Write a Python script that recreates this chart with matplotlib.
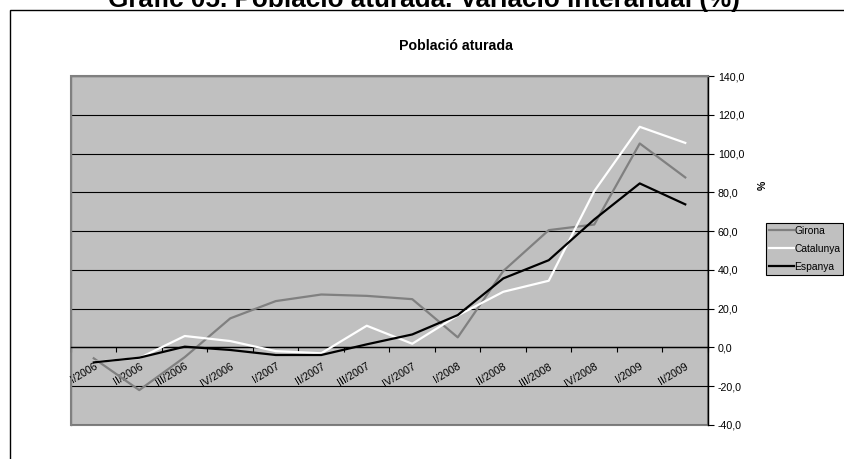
import numpy as np
import matplotlib
matplotlib.use("Agg")
import matplotlib.pyplot as plt
from matplotlib.patches import Rectangle
from matplotlib.ticker import FuncFormatter

plt.rcParams['font.family'] = ['Liberation Sans', 'DejaVu Sans']

categories = ["I/2006", "II/2006", "III/2006", "IV/2006", "I/2007", "II/2007", "III/2007",
              "IV/2007", "I/2008", "II/2008", "III/2008", "IV/2008", "I/2009", "II/2009"]
girona = [-5.6, -22.0, -5.0, 15.0, 23.9, 27.3, 26.6, 24.9, 5.2, 39.4, 60.5, 63.4, 105.2, 87.7]
catalunya = [-7.5, -5.5, 5.9, 3.3, -1.9, -3.0, 11.2, 1.9, 16.5, 28.7, 34.4, 80.6, 113.8, 105.5]
espanya = [-7.7, -5.3, 0.4, -1.3, -3.9, -3.9, 1.6, 6.7, 16.7, 35.6, 45.0, 66.0, 84.6, 73.8]
yticks = [-40, -20, 0, 20, 40, 60, 80, 100, 120, 140]

W, H = 845, 459
fig = plt.figure(figsize=(W / 100, H / 100), dpi=100)
fig.patch.set_facecolor('white')

# outer chart border (cut at right/bottom like the reference)
fig.patches.append(Rectangle((10 / W, -0.2), 1.2, (H - 10.5) / H + 0.2,
                             transform=fig.transFigure, fill=False,
                             edgecolor='black', linewidth=1.0))

fig.text(424 / W, 1 - 7.5 / H, "Gràfic 05. Població aturada. Variació interanual (%)",
         ha='center', va='baseline', fontsize=18.8, fontweight='bold')

ax = fig.add_axes([71 / W, 1 - 425 / H, (708 - 71) / W, (425 - 76) / H])
ax.set_facecolor('#C0C0C0')

x = np.arange(len(categories))
ax.plot(x, girona, color='#808080', lw=1.6, label='Girona', zorder=3)
ax.plot(x, catalunya, color='white', lw=1.6, label='Catalunya', zorder=4)
ax.plot(x, espanya, color='black', lw=1.6, label='Espanya', zorder=5)

ax.set_xlim(-0.5, len(categories) - 0.5)
ax.set_ylim(-40, 140)

# value axis on the right
ax.yaxis.tick_right()
ax.set_yticks(yticks)
ax.yaxis.set_major_formatter(FuncFormatter(lambda v, p: f"{v:.1f}".replace('.', ',')))
ax.tick_params(axis='y', direction='out', length=4, width=0.8, pad=3, labelsize=7.7, colors='black')
ax.yaxis.grid(True, color='black', linewidth=0.8)
ax.set_axisbelow(True)

# category axis crosses at 0
for s in ['left', 'top']:
    ax.spines[s].set_color('#808080')
    ax.spines[s].set_linewidth(1.0)
ax.spines['right'].set_color('black')
ax.spines['right'].set_linewidth(1.0)
ax.spines['bottom'].set_position(('data', 0))
ax.spines['bottom'].set_color('black')
ax.spines['bottom'].set_linewidth(1.0)
ax.add_patch(Rectangle((0, 0), 1, 1, transform=ax.transAxes, fill=False,
                       edgecolor='#808080', linewidth=1.5, zorder=0.5, clip_on=False))

ax.set_xticks(np.arange(-0.5, len(categories), 1.0))
ax.set_xticklabels([])
ax.tick_params(axis='x', which='major', direction='out', length=3.5, width=0.8)
ax.set_xticks(x, labels=categories, minor=True)
ax.tick_params(axis='x', which='minor', length=0, pad=10, labelsize=7.7)
for lbl in ax.get_xticklabels(minor=True):
    lbl.set_rotation(31)
    lbl.set_ha('right')
    lbl.set_va('top')
    lbl.set_rotation_mode('anchor')

fig.text(456 / W, 1 - 46 / H, "Població aturada", ha='center', va='center',
         fontsize=10.2, fontweight='bold')

fig.text(763 / W, 1 - 185 / H, "%", rotation=90, ha='center', va='center', fontsize=7.5, fontweight='bold')

leg = fig.legend(loc='upper left', bbox_to_anchor=(766 / W, 1 - 223 / H), fontsize=7.4,
                 frameon=True, fancybox=False, edgecolor='black', facecolor='#C0C0C0',
                 framealpha=1, handlelength=2.4, handletextpad=0.05, borderpad=0.3,
                 labelspacing=0.75, borderaxespad=0)
leg.get_frame().set_linewidth(0.8)

fig.savefig("out.png", dpi=100)
